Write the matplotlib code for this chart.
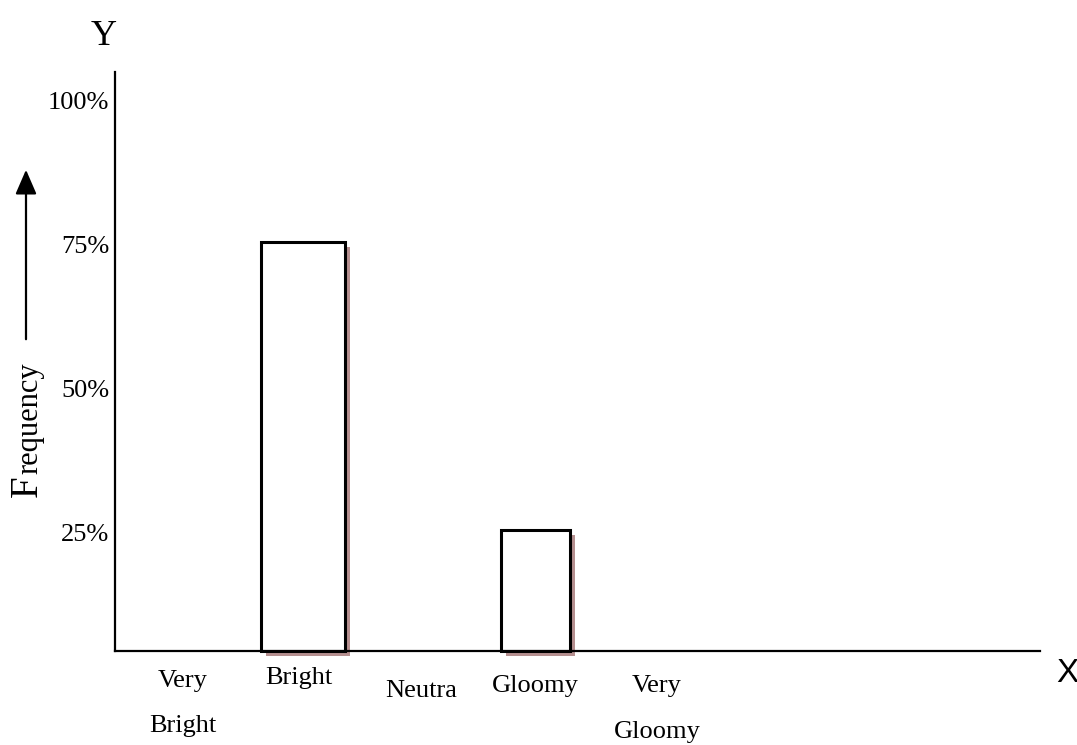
import matplotlib
matplotlib.use("Agg")
import matplotlib.pyplot as plt
import matplotlib.transforms as mtrans
from matplotlib.patches import FancyArrowPatch

# ---- data ----
categories = ["Very\nBright", "Bright", "Neutra", "Gloomy", "Very\nGloomy"]
bar_categories = ["Bright", "Gloomy"]
bar_values = [75, 25]
tick_values = [100, 75, 50, 25]
tick_labels = ["100%", "75%", "50%", "25%"]

W, H = 1077, 745
fig = plt.figure(figsize=(W / 100, H / 100), dpi=100)
ax = fig.add_axes([115 / W, (H - 651) / H, (1040 - 115) / W, (651 - 72) / H])

serif = ["Liberation Serif", "DejaVu Serif"]

xpos = {c.replace("\n", " "): i for i, c in enumerate(categories)}
ybase = 4.08
ax.set_xlim(-0.621, 7.353)
ax.set_ylim(ybase, 104.6)

widths = [0.73, 0.595]
shadow_off = mtrans.ScaledTranslation(5 / 100, -5 / 100, fig.dpi_scale_trans)
for cat, val, w in zip(bar_categories, bar_values, widths):
    # drop shadow
    ax.bar(xpos[cat], val - ybase, bottom=ybase, width=w, facecolor="#b58f8f",
           edgecolor="none", clip_on=False, zorder=2,
           transform=ax.transData + shadow_off)
    ax.bar(xpos[cat], val - ybase, bottom=ybase, width=w, facecolor="white",
           edgecolor="black", linewidth=2.2, clip_on=False, zorder=3)

# spines
for s in ["top", "right"]:
    ax.spines[s].set_visible(False)
ax.spines["left"].set_linewidth(1.6)
ax.spines["bottom"].set_linewidth(1.6)
ax.spines["left"].set_zorder(4)
ax.spines["bottom"].set_zorder(4)

ax.set_yticks(tick_values)
ax.set_yticklabels(tick_labels, fontfamily=serif, fontsize=19)
ax.tick_params(axis="y", length=0, pad=4)
ax.set_xticks([])
down = mtrans.ScaledTranslation(0, -2.5 / 100, fig.dpi_scale_trans)
for lbl in ax.get_yticklabels():
    lbl.set_transform(lbl.get_transform() + down)

# category labels (first line / second line baselines in pixels)
label_rows = {
    "Very\nBright": (687, 732),
    "Bright": (684, None),
    "Neutra": (697, None),
    "Gloomy": (692, None),
    "Very\nGloomy": (692, 738),
}
label_shift = {"Very\nBright": -4, "Bright": -4, "Neutra": 2, "Gloomy": 0, "Very\nGloomy": 6}
trans = mtrans.blended_transform_factory(ax.transData, fig.transFigure)
for i, c in enumerate(categories):
    lines = c.split("\n")
    rows = label_rows[c]
    t = trans + mtrans.ScaledTranslation(label_shift[c] / 100, 0, fig.dpi_scale_trans)
    for ln, yb in zip(lines, rows):
        ax.text(i, (H - yb) / H, ln, transform=t, ha="center", va="baseline",
                fontfamily=serif, fontsize=19, clip_on=False)

# axis letters
fig.text(104 / W, (H - 45) / H, "Y", ha="center", va="baseline", fontfamily=serif, fontsize=26)
fig.text(1067 / W, (H - 682) / H, "X", ha="center", va="baseline",
         fontfamily=["Liberation Sans", "DejaVu Sans"], fontsize=24)

# Frequency label with big F
fig.text(37 / W, (H - 497) / H, "F", rotation=90, rotation_mode="anchor",
         ha="left", va="baseline", fontfamily=serif, fontsize=28)
fig.text(37 / W, (H - 474) / H, "requency", rotation=90, rotation_mode="anchor",
         ha="left", va="baseline", fontfamily=serif, fontsize=22)

# arrow
fig.add_artist(FancyArrowPatch(
    posA=(26 / W, (H - 342) / H), posB=(26 / W, (H - 167) / H),
    transform=fig.transFigure, arrowstyle="-|>,head_length=6,head_width=2.6",
    mutation_scale=2.5, linewidth=1.6, color="black"))

fig.savefig("out.png", dpi=100)
